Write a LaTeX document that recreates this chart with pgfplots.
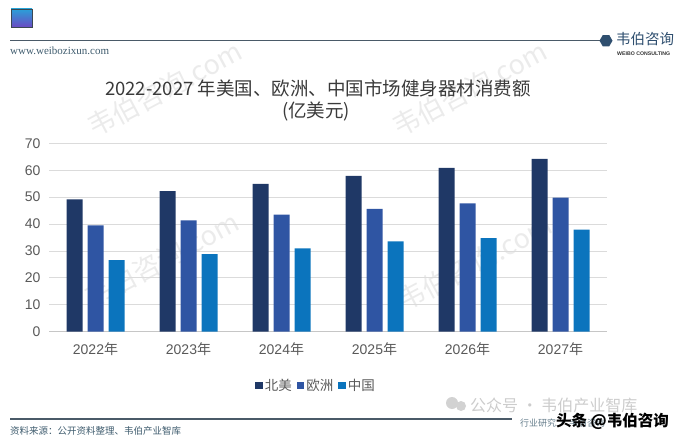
\documentclass[border=0pt]{standalone}
\usepackage{fontspec}
\setmainfont{Liberation Sans}
\newfontfamily\cjk{Noto Sans CJK SC}
\newfontfamily\seriffont{Liberation Serif}
\usepackage{pgfplots}
\pgfplotsset{compat=1.18}
\definecolor{cNA}{HTML}{1F3866}
\definecolor{cEU}{HTML}{2F55A3}
\definecolor{cCN}{HTML}{0B74BD}
\definecolor{tick}{HTML}{595959}
\definecolor{titlec}{HTML}{3A3A3A}
\definecolor{hdr}{HTML}{4A5A68}
\definecolor{teal}{HTML}{3F5C6E}
\definecolor{logob}{HTML}{2F4F6F}
\definecolor{sqA}{HTML}{2AA0D8}
\definecolor{sqB}{HTML}{6A4BC4}
\begin{document}
\begin{tikzpicture}[x=1pt,y=1pt]
\path[use as bounding box] (0,0) rectangle (700,439);
% watermarks
\begin{scope}[text=gray!16]
\node[rotate=28,font=\cjk\fontsize{27}{27}\selectfont] at (165,350) {韦伯咨询.com};
\node[rotate=28,font=\cjk\fontsize{27}{27}\selectfont] at (470,350) {韦伯咨询.com};
\node[rotate=28,font=\cjk\fontsize{27}{27}\selectfont] at (162,179) {韦伯咨询.com};
\node[rotate=28,font=\cjk\fontsize{27}{27}\selectfont] at (475,176) {韦伯咨询.com};
\end{scope}
% header
\shade[left color=sqA, right color=sqB, shading angle=0] (11,430) rectangle (32,412);
\draw[hdr!80!black, line width=0.6pt] (11,430) rectangle (32,412);
\draw[hdr, line width=1.4pt] (10,398.3) -- (602,398.3);
\fill[logob] (606,398.3) +(0:6.5) -- +(60:6.5) -- +(120:6.5) -- +(180:6.5) -- +(240:6.5) -- +(300:6.5) -- cycle;
\node[anchor=west, text=logob, font=\cjk\fontsize{14.5}{14.5}\selectfont, inner sep=0] at (616,400) {韦伯咨询};
\node[anchor=west, text=black!80, font=\bfseries\fontsize{5.2}{5.2}\selectfont, inner sep=0] at (617,385) {WEIBO CONSULTING};
\node[anchor=west, text=teal, font=\seriffont\fontsize{11}{11}\selectfont, inner sep=0] at (10,388) {www.weibozixun.com};
% title
\node[text=titlec, font=\cjk\fontsize{18.5}{18.5}\selectfont] at (318,351) {2022-2027 年美国、欧洲、中国市场健身器材消费额};
\node[text=titlec, font=\cjk\fontsize{18.5}{18.5}\selectfont] at (316,327) {(亿美元)};
\begin{axis}[
  at={(49pt,107.3pt)}, anchor=south west,
  scale only axis, width=558pt, height=188.4pt,
  xmin=-0.5, xmax=5.5, ymin=0, ymax=70,
  ybar=5pt, bar width=16pt,
  ytick={0,10,...,70},
  xtick={0,1,2,3,4,5},
  xticklabels={2022{\cjk 年},2023{\cjk 年},2024{\cjk 年},2025{\cjk 年},2026{\cjk 年},2027{\cjk 年}},
  ymajorgrids, grid style={draw=gray!28, line width=0.8pt},
  axis lines*=left,
  y axis line style={draw=none},
  x axis line style={draw=gray!45, line width=0.8pt},
  major tick length=0pt,
  tick label style={text=tick, font=\fontsize{14}{14}\selectfont},
  /pgf/number format/assume math mode=true,
  yticklabel style={xshift=-5pt},
  xticklabel style={yshift=-7pt},
  legend columns=3,
  legend style={at={(0.4785,-0.288)}, anchor=center, draw=none, fill=none,
    font=\cjk\fontsize{13.5}{13.5}\selectfont, text=tick,
    /tikz/every even column/.append style={column sep=3pt}},
  legend cell align=left,
]
\addplot[fill=cNA, draw=none, legend image code/.code={\fill[cNA] (0pt,-3.5pt) rectangle (7.5pt,4pt);}] coordinates {(0,49.2) (1,52.2) (2,54.9) (3,57.9) (4,60.9) (5,64.2)};
\addplot[fill=cEU, draw=none, legend image code/.code={\fill[cEU] (0pt,-3.5pt) rectangle (7.5pt,4pt);}] coordinates {(0,39.5) (1,41.4) (2,43.5) (3,45.6) (4,47.7) (5,49.8)};
\addplot[fill=cCN, draw=none, legend image code/.code={\fill[cCN] (0pt,-3.5pt) rectangle (7.5pt,4pt);}] coordinates {(0,26.6) (1,28.8) (2,31.0) (3,33.6) (4,34.8) (5,37.9)};
\legend{北美,欧洲,中国}
\end{axis}
% footer
\draw[hdr, line width=1.2pt] (10,20) -- (512,20);
\node[anchor=west, text=teal, font=\cjk\fontsize{9.5}{9.5}\selectfont, inner sep=0] at (10,8) {资料来源：公开资料整理、韦伯产业智库};
\node[anchor=west, text=teal!80, font=\cjk\fontsize{9}{9}\selectfont, inner sep=0] at (520,16) {行业研究 · 韦伯咨询};
\fill[gray!35] (452,36) circle (6);
\fill[gray!35] (461,33) circle (5);
\node[anchor=west, text=gray!40, font=\cjk\fontsize{16}{16}\selectfont, inner sep=0] at (470,34) {公众号 · 韦伯产业智库};
\node[anchor=west, text=black, font=\cjk\bfseries\fontsize{15.5}{15.5}\selectfont, inner sep=0] at (556,18) {头条 @韦伯咨询};
\end{tikzpicture}
\end{document}
